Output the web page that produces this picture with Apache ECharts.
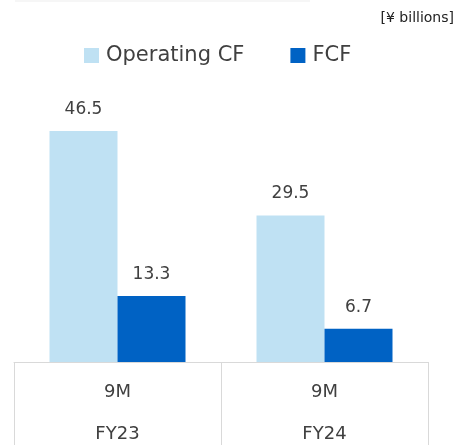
<!DOCTYPE html>
<html>
<head>
<meta charset="utf-8">
<script src="https://cdn.jsdelivr.net/npm/echarts@6/dist/echarts.min.js"></script>
<style>
  html, body { margin: 0; padding: 0; background: #fff; }
  #chart { width: 455px; height: 445px; }
</style>
</head>
<body>
<div id="chart"></div>
<script>
// values, ¥ billions
const categories = ['9M\n\nFY23', '9M\n\nFY24'];
const operatingCF = [46.5, 29.5];
const fcf = [13.3, 6.7];
const seriesNames = ['Operating CF', 'FCF'];
const colors = ['#bfe1f3', '#0062c4'];

const font = 'DejaVu Sans';
const chart = echarts.init(document.getElementById('chart'));

let labelStyle = {
  show: true,
  position: 'top',
  distance: 13,
  color: '#404040',
  fontSize: 17,
  fontFamily: font
};

chart.setOption({
  animation: false,
  graphic: [
    {
      type: 'rect',
      left: 15, top: 0,
      shape: { width: 295, height: 2 },
      style: { fill: '#f6f6f6' }
    },
    {
      type: 'text',
      right: 1, top: 11,
      style: { text: '[¥ billions]', fill: '#222', font: '14px ' + font }
    }
  ],
  legend: {
    data: seriesNames,
    left: 79,
    top: 40,
    itemWidth: 15,
    itemHeight: 15,
    itemGap: 46,
    icon: 'rect',
    textStyle: { fontSize: 21, color: '#404040', fontFamily: font, padding: [0, 0, 0, 2] }
  },
  grid: {
    left: 14,
    right: 27,
    top: 113.5,
    bottom: 81.5
  },
  xAxis: {
    type: 'category',
    data: categories,
    axisLine: { show: true, lineStyle: { color: '#d9d9d9', width: 1 } },
    axisTick: { show: true, length: 90, lineStyle: { color: '#d9d9d9' } },
    axisLabel: {
      color: '#404040',
      fontSize: 18,
      fontFamily: font,
      lineHeight: 21,
      margin: 20
    }
  },
  yAxis: {
    type: 'value',
    min: 0,
    max: 50,
    show: false
  },
  series: [
    {
      name: seriesNames[0],
      type: 'bar',
      data: operatingCF,
      barWidth: 68,
      barGap: '0%',
      itemStyle: { color: colors[0] },
      label: labelStyle
    },
    {
      name: seriesNames[1],
      type: 'bar',
      data: fcf,
      barWidth: 68,
      barGap: '0%',
      itemStyle: { color: colors[1] },
      label: labelStyle
    }
  ]
});
</script>
</body>
</html>
